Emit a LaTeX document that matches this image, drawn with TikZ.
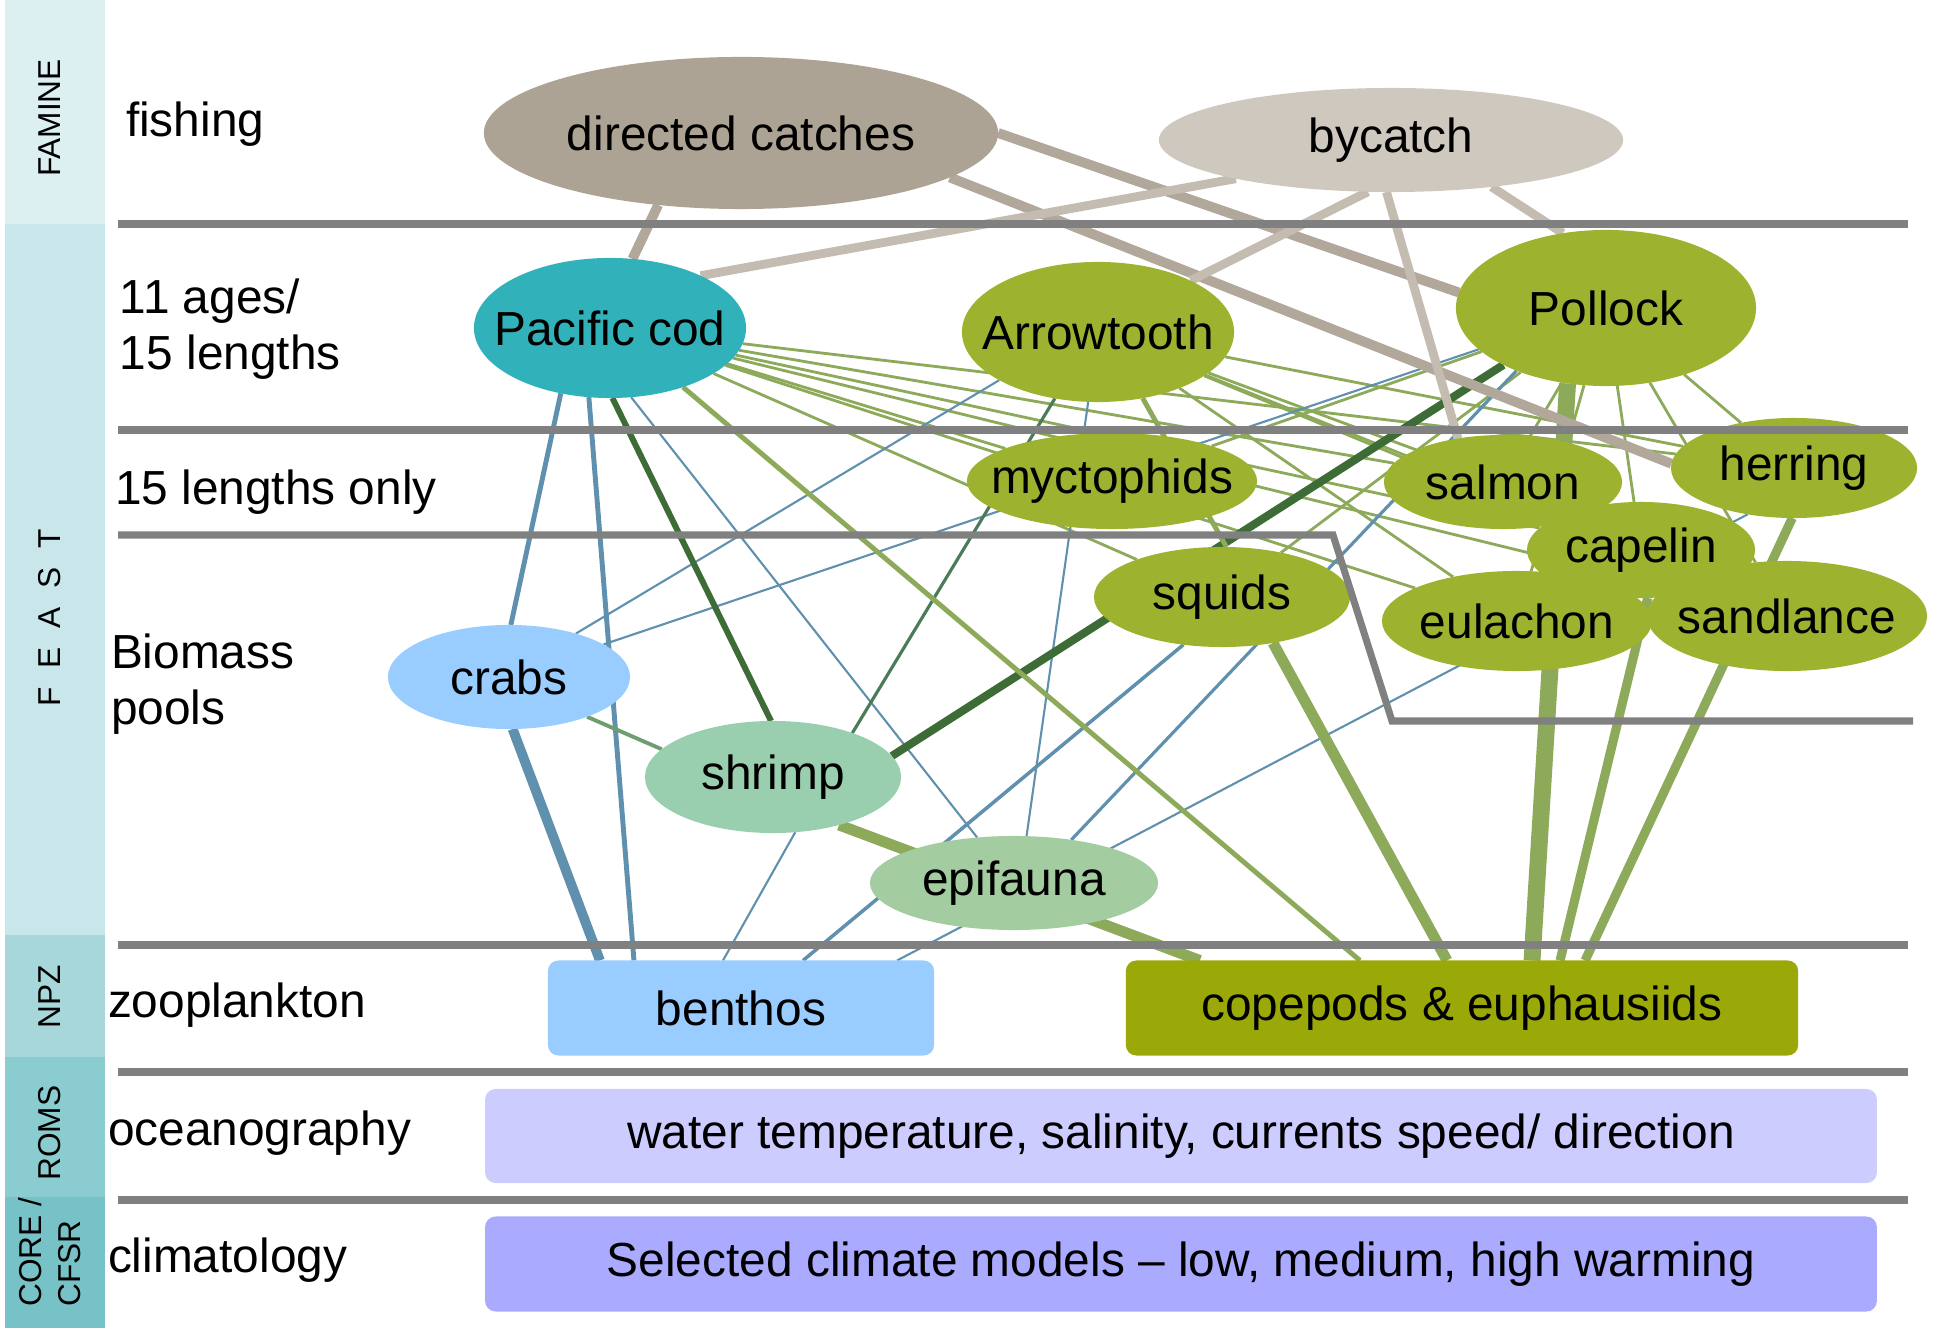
\documentclass[tikz,border=0pt]{standalone}
\usepackage{fontspec}
\setmainfont{Liberation Sans}
\usetikzlibrary{shapes.geometric}

\definecolor{famineband}{HTML}{DCEFF1}
\definecolor{feastband}{HTML}{C9E6EA}
\definecolor{npzband}{HTML}{A7D7DB}
\definecolor{romsband}{HTML}{8BCCD0}
\definecolor{coreband}{HTML}{77C2C7}
\definecolor{rulegray}{HTML}{808080}
\definecolor{catchfill}{HTML}{ADA394}
\definecolor{byfill}{HTML}{CFC8BE}
\definecolor{codfill}{HTML}{31B2BA}
\definecolor{fishfill}{HTML}{9DB22F}
\definecolor{crabfill}{HTML}{99CCFF}
\definecolor{shrimpfill}{HTML}{99CFAE}
\definecolor{epifill}{HTML}{A3CCA0}
\definecolor{copefill}{HTML}{9AA908}
\definecolor{oceanfill}{HTML}{CCCCFF}
\definecolor{climfill}{HTML}{AAAAFF}
\definecolor{catchline}{HTML}{B1A79A}
\definecolor{byline}{HTML}{C4BCB1}
\definecolor{benthicblue}{HTML}{5F90AE}
\definecolor{preygreen}{HTML}{8DA95A}
\definecolor{darkgreen}{HTML}{3E6C36}
\definecolor{tealgreen}{HTML}{4B7B58}
\definecolor{crabgreen}{HTML}{6F9E6E}

\pgfdeclarelayer{bands}
\pgfdeclarelayer{links}
\pgfdeclarelayer{rules}
\pgfsetlayers{bands,links,main,rules}

\begin{document}
\begin{tikzpicture}[
x=0.01cm,y=-0.01cm,
every node/.style={
font=\fontsize{13.6}{16.2}\selectfont,
inner sep=0pt,
outer sep=0pt
},
blob/.style={
ellipse,
inner xsep=-0.5cm
},
fishnode/.style={blob, fill=fishfill},
boxnode/.style={rectangle, rounded corners=3pt},
bandlabel/.style={rotate=90, font=\fontsize{9}{11}\selectfont},
ruleline/.style={line width=2pt, draw=rulegray},
catchlink/.style={line width=2.8pt, draw=catchline},
bylink/.style={line width=2.5pt, draw=byline},
bluelink/.style={draw=benthicblue, line width=0.6pt},
greenlink/.style={draw=preygreen, line width=0.8pt},
darklink/.style={draw=darkgreen}
]

\useasboundingbox (0,0) rectangle (1942,1334);

\begin{pgfonlayer}{bands}
\fill[famineband] (5,0) rectangle (105,224);
\fill[feastband] (5,224) rectangle (105,935);
\fill[npzband] (5,935) rectangle (105,1057);
\fill[romsband] (5,1057) rectangle (105,1197);
\fill[coreband] (5,1197) rectangle (105,1328);
\end{pgfonlayer}

\node[bandlabel] (famlab) at (50,118) {FAMINE};
\node[bandlabel] (feastlab) at (50,618)
{F\hspace{0.6em}E\hspace{0.6em}A\hspace{0.6em}S\hspace{0.6em}T};
\node[bandlabel] (npzlab) at (50,997) {NPZ};
\node[bandlabel] (romslab) at (50,1133) {ROMS};
\node[bandlabel, align=left] (corelab) at (50,1252) {CORE /\\CFSR};

\node[anchor=base west] (fish) at (126,137) {fishing};
\node[anchor=base west, align=left] (ages) at (120,370) {11 ages/\\15 lengths};
\node[anchor=base west] (lenonly) at (115,505) {15 lengths only};
\node[anchor=base west, align=left] (pools) at (111,725) {Biomass\\pools};
\node[anchor=base west] (zoo) at (108,1017) {zooplankton};
\node[anchor=base west] (ocean) at (108,1145) {oceanography};
\node[anchor=base west] (climo) at (108,1272) {climatology};

\node[blob, fill=catchfill, minimum width=5.14cm, minimum height=1.52cm] (DC) at (741,133)
{directed catches};
\node[blob, fill=byfill, minimum width=4.64cm, minimum height=1.04cm] (BC) at (1391,140)
{bycatch};

\node[blob, fill=codfill, minimum width=2.72cm, minimum height=1.4cm] (cod) at (610,328)
{Pacific cod};
\node[fishnode, minimum width=2.72cm, minimum height=1.4cm] (atf) at (1098,332)
{Arrowtooth};
\node[fishnode, minimum width=3cm, minimum height=1.56cm] (pol) at (1606,308)
{Pollock};

\node[fishnode, minimum width=2.9cm, minimum height=0.96cm] (myc) at (1112,481)
{myctophids};
\node[fishnode, minimum width=2.38cm, minimum height=0.94cm] (sal) at (1503,482)
{salmon};
\node[fishnode, minimum width=2.46cm, minimum height=1cm] (her) at (1794,468)
{herring};
\node[fishnode, minimum width=2.28cm, minimum height=0.96cm] (cap) at (1641,550)
{capelin};
\node[fishnode, minimum width=2.7cm, minimum height=1cm] (eul) at (1517,621)
{eulachon};
\node[fishnode, minimum width=2.8cm, minimum height=1.1cm] (san) at (1787,616)
{sandlance};
\node[fishnode, minimum width=2.56cm, minimum height=1cm] (squ) at (1222,597)
{squids};

\node[blob, fill=crabfill, minimum width=2.42cm, minimum height=1.04cm] (crb) at (509,677)
{crabs};
\node[blob, fill=shrimpfill, minimum width=2.56cm, minimum height=1.12cm] (shr) at (773,777)
{shrimp};
\node[blob, fill=epifill, minimum width=2.88cm, minimum height=0.94cm] (epi) at (1014,883)
{epifauna};

\node[boxnode, fill=crabfill, minimum width=3.86cm, minimum height=0.95cm] (ben) at (741,1008)
{benthos};
\node[boxnode, fill=copefill, minimum width=6.72cm, minimum height=0.95cm] (cop) at (1462,1008)
{copepods \& euphausiids};
\node[boxnode, fill=oceanfill, minimum width=13.91cm, minimum height=0.94cm] (ocn) at (1181,1136)
{water temperature, salinity, currents speed/ direction};
\node[boxnode, fill=climfill, minimum width=13.91cm, minimum height=0.95cm] (clim) at (1181,1264)
{Selected climate models -- low, medium, high warming};

\begin{pgfonlayer}{links}
\draw[greenlink] (cod) -- (her);
\draw[greenlink] (cod) -- (sal);
\draw[greenlink] (cod) -- (cap);
\draw[greenlink] (cod) -- (san);
\draw[greenlink] (cod) -- (eul);
\draw[greenlink] (cod) -- (myc);
\draw[greenlink] (cod) -- (squ);
\draw[greenlink] (atf) -- (her);
\draw[greenlink] (atf) -- (sal);
\draw[greenlink] (atf) -- (cap);
\draw[greenlink] (atf) -- (san);
\draw[greenlink] (atf) -- (eul);
\draw[greenlink] (pol) -- (her);
\draw[greenlink] (pol) -- (cap);
\draw[greenlink] (pol) -- (san);
\draw[greenlink] (pol) -- (eul);
\draw[greenlink] (pol) -- (sal);
\draw[greenlink] (pol) -- (myc);
\draw[greenlink] (pol) -- (squ);

\draw[bluelink, line width=1.4pt] (cod.-127) -- (crb.88);
\draw[bluelink, line width=2.8pt] (crb.-86) -- ([xshift=-1.41cm]ben.north);
\draw[bluelink, line width=1.4pt] (cod.-107) -- ([xshift=-1.07cm]ben.north);
\draw[bluelink] (cod.-73) -- (epi.129);
\draw[bluelink] (atf.-154) -- (crb.33);
\draw[bluelink] (pol.-162) -- (crb.19);
\draw[bluelink] (atf.-98) -- (epi.75);
\draw[bluelink, line width=0.9pt] (pol.-145) -- (epi.37);
\draw[bluelink] (shr.-68) -- ([xshift=-0.18cm]ben.north);
\draw[bluelink, line width=1pt] (squ.-129) -- ([xshift=0.62cm]ben.north);
\draw[bluelink] (her.-135) -- ([xshift=1.56cm]ben.north);

\draw[darklink, line width=1.7pt] (cod.-88) -- (shr.92);
\draw[darklink, line width=2.3pt] (pol.-151) -- (shr.10);
\draw[draw=tealgreen, line width=0.9pt] (atf.-123) -- (shr.29);
\draw[draw=crabgreen, line width=1.1pt] (crb.-27) -- (shr.166);

\draw[greenlink, line width=1.4pt] (atf.-56) -- (squ.85);
\draw[greenlink, line width=1.4pt] (cod.-39) -- ([xshift=-1.02cm]cop.north);
\draw[greenlink, line width=3.1pt] (squ.-42) -- ([xshift=-0.15cm]cop.north);
\draw[greenlink, line width=3.1pt] (shr.-36) -- ([xshift=-2.62cm]cop.north);
\draw[greenlink, line width=4.8pt] (pol.-117) -- ([xshift=0.7cm]cop.north);
\draw[greenlink, line width=2.6pt] (cap.-82) -- ([xshift=0.98cm]cop.north);
\draw[greenlink, line width=2.6pt] (her.-92) -- ([xshift=1.23cm]cop.north);

\draw[catchlink] (DC.-139) -- (cod.72);
\draw[catchlink] (DC.0) -- (pol.174);
\draw[catchlink] (DC.-12) -- (her.178);
\draw[bylink] (BC.-166) -- (cod.30);
\draw[bylink] (BC.-114) -- (atf.29);
\draw[bylink] (BC.-95) -- (sal.136);
\draw[bylink] (BC.-25) -- (pol.120);
\end{pgfonlayer}

\begin{pgfonlayer}{rules}
\draw[ruleline] (118,224) -- (1908,224);
\draw[ruleline] (118,430) -- (1908,430);
\draw[ruleline] (118,535) -- (1333,535) -- (1392,721) -- (1913,721);
\draw[ruleline] (118,945) -- (1908,945);
\draw[ruleline] (118,1072) -- (1908,1072);
\draw[ruleline] (118,1200) -- (1908,1200);
\end{pgfonlayer}

\end{tikzpicture}
\end{document}
